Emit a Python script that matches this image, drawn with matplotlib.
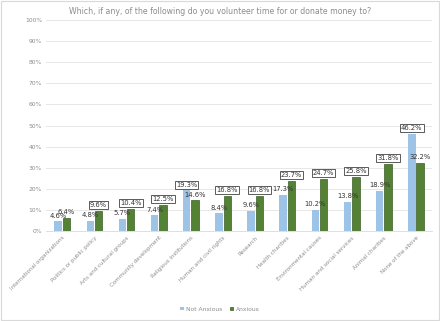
import numpy as np
from matplotlib import pyplot as plt

categories = ["International organizations", "Politics or public policy", "Arts and cultural groups",
              "Community development", "Religious institutions", "Human and civil rights",
              "Research", "Health charities", "Environmental causes",
              "Human and social services", "Animal charities", "None of the above"]
not_anxious = [4.6, 4.8, 5.7, 7.4, 19.3, 8.4, 9.6, 17.3, 10.2, 13.8, 18.9, 46.2]
anxious = [6.4, 9.6, 10.4, 12.5, 14.6, 16.8, 16.8, 23.7, 24.7, 25.8, 31.8, 32.2]
# which label of each pair gets a box (the higher one)
boxed_not = [False, False, False, False, True, False, False, False, False, False, False, True]
boxed_anx = [False, True, True, True, False, True, True, True, True, True, True, False]

blue = "#9DC3E6"
green = "#548235"
txt = "#333333"

fig = plt.figure(figsize=(4.4, 3.21), dpi=100)
fig.patch.set_facecolor("white")
border = plt.Rectangle((0.003, 0.004), 0.994, 0.992, transform=fig.transFigure,
                       fill=False, edgecolor="#D9D9D9", linewidth=0.8)
fig.add_artist(border)

ax = fig.add_axes([0.105, 0.280, 0.877, 0.658])
x = np.arange(len(categories))
w = 0.23
b1 = ax.bar(x - 0.13, not_anxious, w, color=blue, label="Not Anxious", zorder=2)
b2 = ax.bar(x + 0.13, anxious, w, color=green, edgecolor="#3B5E25", linewidth=0.5,
            label="Anxious", zorder=2)

box = dict(boxstyle="square,pad=0.15", facecolor="white", edgecolor="#404040", linewidth=0.6)
for i in range(len(categories)):
    ax.annotate(f"{not_anxious[i]:.1f}%", (x[i] - 0.13, not_anxious[i]), xytext=(0, 2),
                textcoords="offset points", ha="center", va="bottom", fontsize=4.9,
                color=txt, bbox=box if boxed_not[i] else None, zorder=3)
    ax.annotate(f"{anxious[i]:.1f}%", (x[i] + 0.13, anxious[i]), xytext=(0, 2),
                textcoords="offset points", ha="center", va="bottom", fontsize=4.9,
                color=txt, bbox=box if boxed_anx[i] else None, zorder=3)

ax.set_ylim(0, 100)
ax.set_xlim(-0.5, len(categories) - 0.5)
ax.set_yticks(np.arange(0, 101, 10))
ax.set_yticklabels([f"{v}%" for v in range(0, 101, 10)], fontsize=4.3, color="#8C8C8C")
ax.set_xticks(x)
ax.set_xticklabels(categories, rotation=45, ha="right", rotation_mode="anchor",
                   fontsize=4, color="#8C8C8C")
ax.tick_params(length=0, pad=3)
ax.grid(axis="y", color="#E3E3E3", linewidth=0.6, zorder=0)
for s in ["top", "right", "left"]:
    ax.spines[s].set_visible(False)
ax.spines["bottom"].set_color("#D9D9D9")
ax.spines["bottom"].set_linewidth(0.6)

fig.text(0.5, 0.965, "Which, if any, of the following do you volunteer time for or donate money to?",
         ha="center", va="center", fontsize=5.6, color="#8C8C8C")
fig.legend(handles=[b1, b2], loc="center", bbox_to_anchor=(0.5, 0.037), ncol=2, frameon=False,
           fontsize=4.3, handlelength=0.6, handleheight=0.6, handletextpad=0.4, columnspacing=1.2,
           labelcolor="#8C8C8C")

fig.savefig("out.png", dpi=100)
